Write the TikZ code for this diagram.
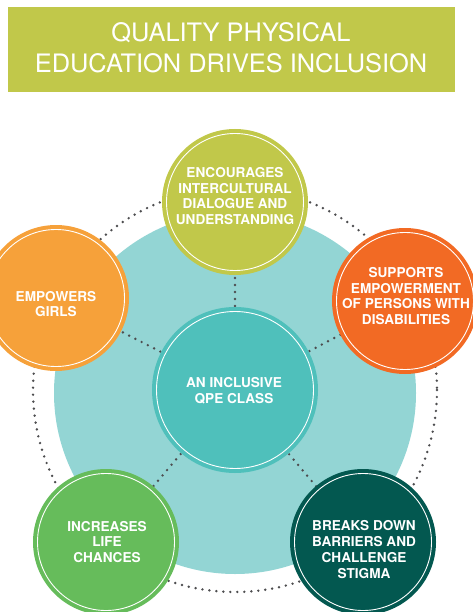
\documentclass[tikz,border=0pt]{standalone}
\usepackage{fontspec}
\setmainfont{TeX Gyre Heros}
\definecolor{olive}{HTML}{C1C84A}
\definecolor{lightteal}{HTML}{93D5D4}
\definecolor{midteal}{HTML}{4FC0BB}
\definecolor{orangeA}{HTML}{F6A13A}
\definecolor{orangeB}{HTML}{F26A24}
\definecolor{greenA}{HTML}{66BC5B}
\definecolor{darkteal}{HTML}{035850}
\definecolor{dotgray}{HTML}{4D4D4F}
\tikzset{
  sat/.style={circle, minimum size=146pt, inner sep=0pt, outer sep=0pt},
  ring/.style={draw=white, line width=0.9pt},
  lbl/.style={text=white, font=\bfseries\fontsize{13.6}{15.7}\selectfont, align=center, inner sep=0pt},
  dots/.style={draw=dotgray, line width=2.7pt, line cap=round, dash pattern=on 0pt off 7pt},
}
\begin{document}
\begin{tikzpicture}[x=1pt,y=-1pt]
\useasboundingbox (0,0) rectangle (472,612);
% title
\node[fill=olive, minimum width=447pt, minimum height=85pt, inner sep=0pt] (titlebox) at (231.5,49.2) {};
\node[text=white, font=\fontsize{25.4}{31}\selectfont, align=center, inner sep=0pt] (title) at (231,48) {QUALITY PHYSICAL\\EDUCATION DRIVES INCLUSION};
% background disc
\node[circle, fill=lightteal, minimum size=362pt, inner sep=0pt] (disc) at (235,393) {};
% outer dotted ring
\coordinate (hub) at (235,390);
\draw[dots] (hub) circle (202);
% satellites positions
\coordinate (pT) at (235,202);
\coordinate (pL) at (56,298);
\coordinate (pR) at (405,301);
\coordinate (pBL) at (106,542);
\coordinate (pBR) at (363,542);
% spokes
\draw[dots] (hub) -- (pT);
\draw[dots] (hub) -- (pL);
\draw[dots] (hub) -- (pR);
\draw[dots] (hub) -- (pBL);
\draw[dots] (hub) -- (pBR);
% center circle
\node[circle, fill=midteal, minimum size=166pt, inner sep=0pt] (center) at (hub) {};
\draw[ring] (center) circle (78.5);
\node[lbl] (centerT) at (234,390.5) {AN INCLUSIVE\\QPE CLASS};
% satellites
\node[sat, fill=olive] (top) at (pT) {};
\draw[ring] (top) circle (68.5);
\node[lbl] (topT) at (235,196) {ENCOURAGES\\INTERCULTURAL\\DIALOGUE AND\\UNDERSTANDING};
\node[sat, fill=orangeA] (left) at (pL) {};
\draw[ring] (left) circle (68.5);
\node[lbl] (leftT) at (56,304) {EMPOWERS\\GIRLS};
\node[sat, fill=orangeB] (right) at (pR) {};
\draw[ring] (right) circle (68.5);
\node[lbl] (rightT) at (406,296) {SUPPORTS\\EMPOWERMENT\\OF PERSONS WITH\\DISABILITIES};
\node[sat, fill=greenA] (bl) at (pBL) {};
\draw[ring] (bl) circle (68.5);
\node[lbl] (blT) at (107,542) {INCREASES\\LIFE\\CHANCES};
\node[sat, fill=darkteal] (br) at (pBR) {};
\draw[ring] (br) circle (68.5);
\node[lbl] (brT) at (364,549.5) {BREAKS DOWN\\BARRIERS AND\\CHALLENGE\\STIGMA};
\end{tikzpicture}
\end{document}
